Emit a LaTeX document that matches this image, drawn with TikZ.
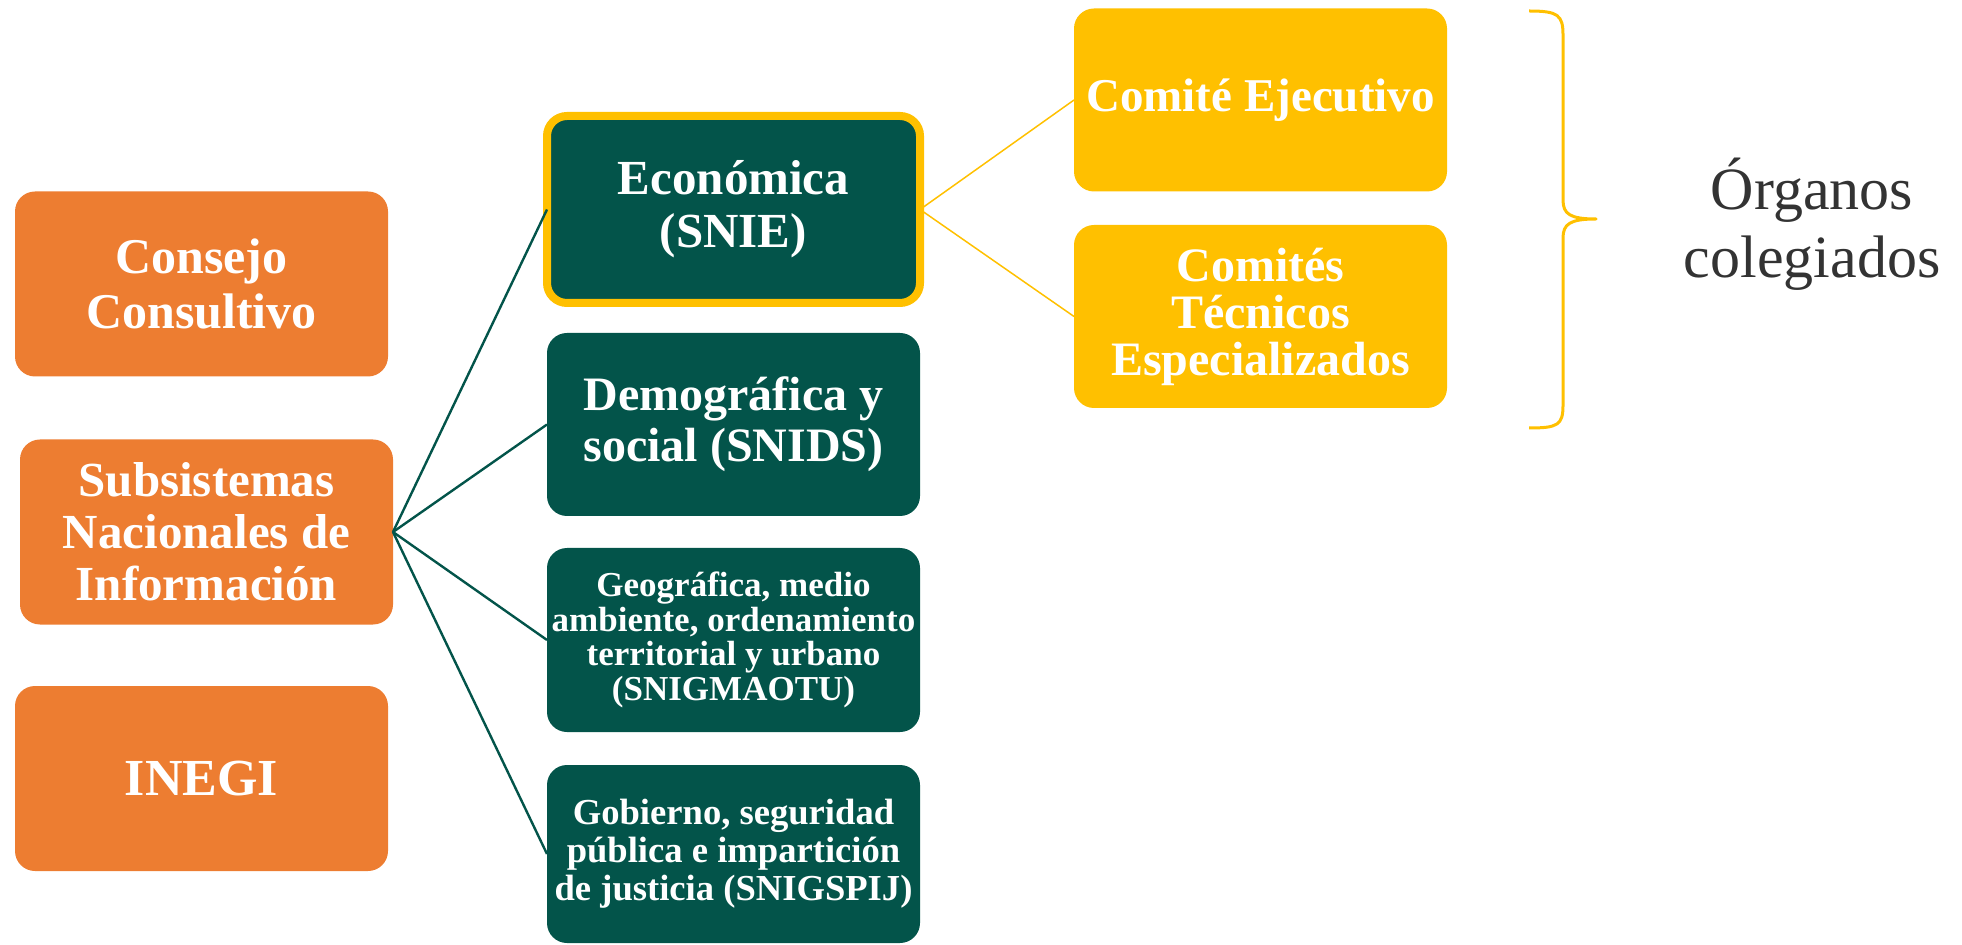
\documentclass[tikz,border=0pt]{standalone}
\usepackage{fontspec}
\setmainfont{Liberation Serif}
\definecolor{orangeC}{HTML}{ED7D31}
\definecolor{greenC}{HTML}{03544A}
\definecolor{yellowC}{HTML}{FFC000}
\definecolor{grayT}{HTML}{333333}
\tikzset{
  basebox/.style={rounded corners=10pt, inner sep=0pt, outer sep=0pt, align=center, text=white, minimum width=186.5pt},
  orangebox/.style={basebox, fill=orangeC, minimum height=92.5pt},
  greenbox/.style={basebox, fill=greenC},
  yellowbox/.style={basebox, fill=yellowC, minimum height=91.5pt},
  greenline/.style={draw=greenC, line width=1.2pt},
  yellowline/.style={draw=yellowC, line width=0.75pt},
  bigfont/.style={font=\fontsize{25}{27.5}\selectfont\bfseries},
}
\begin{document}
\begin{tikzpicture}[x=0.5pt,y=-0.5pt]
\useasboundingbox (0,0) rectangle (1962,945);
% left column
\node[orangebox, bigfont] (consejo) at (201.5,284) {Consejo\\Consultivo};
\node[orangebox, font=\fontsize{24.5}{26}\selectfont\bfseries] (subs) at (206.5,532) {Subsistemas\\Nacionales de\\Información};
\node[orangebox, font=\fontsize{26}{28}\selectfont\bfseries] (inegi) at (201.5,778.5) {INEGI};
% green column
\node[greenbox, draw=yellowC, line width=4pt, minimum height=93.5pt, font=\fontsize{24.5}{26.5}\selectfont\bfseries] (econ) at (733.5,209.5) {Económica\\(SNIE)};
\node[greenbox, minimum height=91.5pt, font=\fontsize{24}{25.5}\selectfont\bfseries] (demo) at (733.5,424.5) {Demográfica y\\social (SNIDS)};
\node[greenbox, minimum height=92pt, font=\fontsize{17.5}{17.2}\selectfont\bfseries] (geo) at (733.5,640) {Geográfica, medio\\ambiente, ordenamiento\\territorial y urbano\\(SNIGMAOTU)};
\node[greenbox, minimum height=89pt, font=\fontsize{18.3}{19}\selectfont\bfseries] (gob) at (733.5,854) {Gobierno, seguridad\\pública e impartición\\de justicia (SNIGSPIJ)};
% yellow column
\node[yellowbox, font=\fontsize{23.5}{24}\selectfont\bfseries] (ejec) at (1260.5,100) {Comité Ejecutivo};
\node[yellowbox, font=\fontsize{24}{23.5}\selectfont\bfseries] (tec) at (1260.5,316.5) {Comités\\Técnicos\\Especializados};
% connectors
\draw[greenline] (subs.east) -- (econ.west);
\draw[greenline] (subs.east) -- (demo.west);
\draw[greenline] (subs.east) -- (geo.west);
\draw[greenline] (subs.east) -- (gob.west);
\draw[yellowline] (econ.east) -- (ejec.west);
\draw[yellowline] (econ.east) -- (tec.west);
% brace
\draw[draw=yellowC, line width=1.5pt, line join=round]
  (1529,11) .. controls (1558,11) and (1563,15) .. (1563,35)
  -- (1563,200) .. controls (1563,214) and (1570,219) .. (1596,219)
  .. controls (1570,219) and (1563,224) .. (1563,238)
  -- (1563,405) .. controls (1563,425) and (1558,428) .. (1529,428);
\node[text=grayT, align=center, inner sep=0pt, font=\fontsize{30}{34}\selectfont] (org) at (1812,224) {Órganos\\colegiados};
\end{tikzpicture}
\end{document}
